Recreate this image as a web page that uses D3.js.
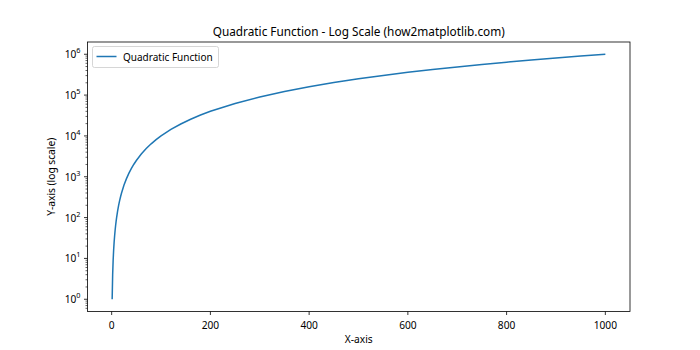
<!DOCTYPE html>
<html><head><meta charset="utf-8">
<script src="https://cdn.jsdelivr.net/npm/d3@7"></script>
<style>body{margin:0;background:#fff}svg{display:block}text{font-family:"Noto Sans","Open Sans",sans-serif;fill:#000}</style>
</head><body><svg id="c" width="700" height="350"></svg>
<script>
const xValues = [1,2,3,4,5,6,7,8,9,10,12,14,16,18,20,25,30,35,40,45,50,60,70,80,90,100,120,140,160,180,200,250,300,350,400,450,500,550,600,650,700,750,800,850,900,950,1000];
const yValues = [1,4,9,16,25,36,49,64,81,100,144,196,256,324,400,625,900,1225,1600,2025,2500,3600,4900,6400,8100,10000,14400,19600,25600,32400,40000,62500,90000,122500,160000,202500,250000,302500,360000,422500,490000,562500,640000,722500,810000,902500,1000000];
const xTicks = [0,200,400,600,800,1000];
const yTickExps = [0,1,2,3,4,5,6];
const title = "Quadratic Function - Log Scale (how2matplotlib.com)";
const seriesName = "Quadratic Function";

const svg = d3.select("#c");
const L=87.5,R=630,T=42,B=311.5;
const xmin=d3.min(xValues),xmax=d3.max(xValues),xm=(xmax-xmin)*0.05;
const x=d3.scaleLinear().domain([xmin-xm,xmax+xm]).range([L,R]);
const lmin=Math.log10(d3.min(yValues)),lmax=Math.log10(d3.max(yValues)),lm=(lmax-lmin)*0.05;
const y=d3.scaleLog().domain([Math.pow(10,lmin-lm),Math.pow(10,lmax+lm)]).range([B,T]);
const col="#1f77b4";

// x axis
const xg=svg.append("g").attr("transform",`translate(0,${B})`);
xTicks.forEach(t=>{
  xg.append("line").attr("x1",x(t)).attr("x2",x(t)).attr("y1",0).attr("y2",3.5).attr("stroke","#000").attr("stroke-width",0.8);
  xg.append("text").attr("x",x(t)).attr("y",17).attr("text-anchor","middle").attr("font-size",10.2).text(t);
});
// y axis major
const yg=svg.append("g");
yTickExps.forEach(e=>{
  const v=Math.pow(10,e);
  yg.append("line").attr("x1",L-3.5).attr("x2",L).attr("y1",y(v)).attr("y2",y(v)).attr("stroke","#000").attr("stroke-width",0.8);
  const t=yg.append("text").attr("x",L-7).attr("y",y(v)+4).attr("text-anchor","end").attr("font-size",10.2);
  t.append("tspan").text("10");
  t.append("tspan").attr("dy",-5).attr("font-size",7.3).text(e);
});
// minor ticks
const [d0,d1]=y.domain();
for(let e=Math.floor(Math.log10(d0));e<=Math.ceil(Math.log10(d1));e++){
  for(let m=2;m<=9;m++){
    const v=m*Math.pow(10,e);
    if(v<d0||v>d1) continue;
    yg.append("line").attr("x1",L-2).attr("x2",L).attr("y1",y(v)).attr("y2",y(v)).attr("stroke","#000").attr("stroke-width",0.6);
  }
}
// line
const pts=xValues.map((v,i)=>[v,yValues[i]]);
svg.append("path").datum(pts).attr("fill","none").attr("stroke",col).attr("stroke-width",1.5)
  .attr("d",d3.line().x(d=>x(d[0])).y(d=>y(d[1])));
// frame
svg.append("rect").attr("x",L).attr("y",T).attr("width",R-L).attr("height",B-T).attr("fill","none").attr("stroke","#000").attr("stroke-width",0.8);
// title & labels
svg.append("text").attr("x",(L+R)/2).attr("y",T-6).attr("text-anchor","middle").attr("font-size",11.8).text(title);
svg.append("text").attr("x",(L+R)/2).attr("y",343).attr("text-anchor","middle").attr("font-size",10.2).text("X-axis");
svg.append("text").attr("transform",`translate(55,${(T+B)/2}) rotate(-90)`).attr("text-anchor","middle").attr("font-size",10.2).text("Y-axis (log scale)");
// legend
const lg=svg.append("g");
lg.append("rect").attr("x",92.5).attr("y",46.5).attr("width",126).attr("height",21).attr("rx",2).attr("fill","#fff").attr("fill-opacity",0.8).attr("stroke","#ccc").attr("stroke-width",0.8);
lg.append("line").attr("x1",96.5).attr("x2",116.5).attr("y1",56.5).attr("y2",56.5).attr("stroke",col).attr("stroke-width",1.5);
lg.append("text").attr("x",123).attr("y",60.5).attr("font-size",10).text(seriesName);
</script></body></html>
